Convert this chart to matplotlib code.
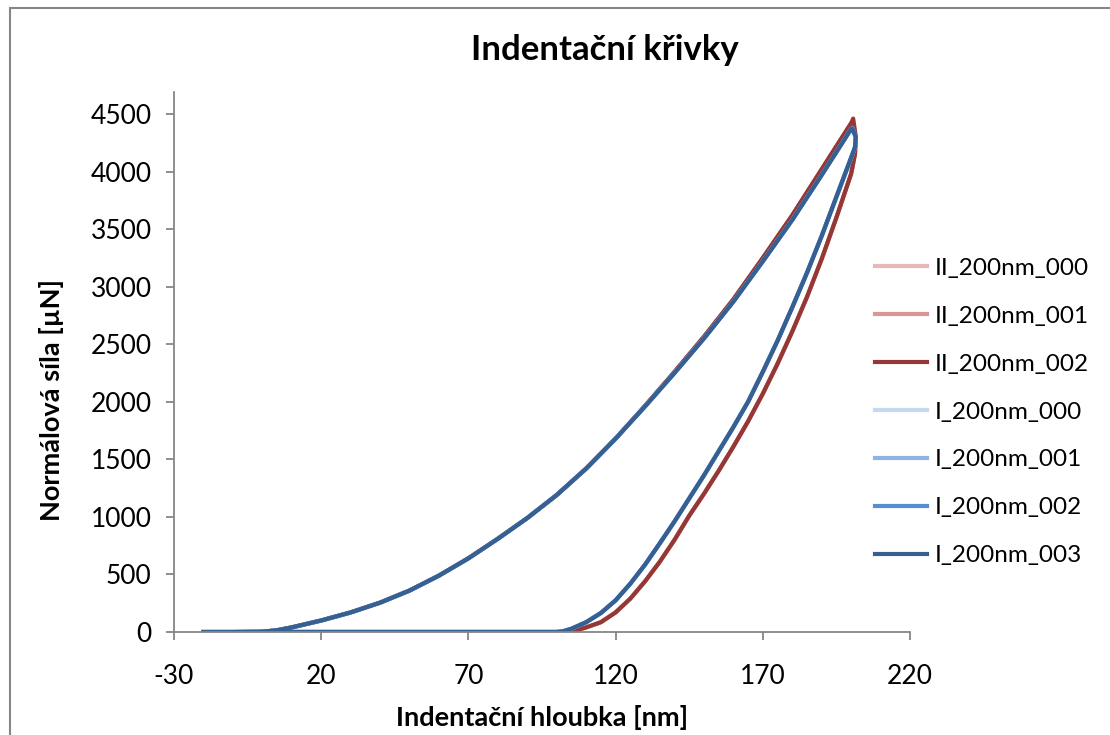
import matplotlib
matplotlib.use("Agg")
import matplotlib.pyplot as plt
from matplotlib.patches import Rectangle

plt.rcParams["font.family"] = ["Lato", "DejaVu Sans"]
plt.rcParams["axes.unicode_minus"] = False

# loading branch, shared depth grid [nm]
load_depth = [-20, -10, 0, 5, 10, 20, 30, 40, 50, 60, 70, 80, 90, 100,
              110, 120, 130, 140, 150, 160, 170, 180, 190, 200]
load_force_I = [0, 0, 2, 15, 40, 100, 170, 255, 360, 490, 640, 810, 990, 1190,
                1420, 1680, 1960, 2250, 2550, 2870, 3220, 3580, 3970, 4370]
load_force_II = [0, 0, 2, 15, 40, 100, 170, 255, 360, 490, 640, 810, 990, 1190,
                 1420, 1680, 1965, 2260, 2565, 2890, 3250, 3620, 4020, 4420]

# unloading branch, shared depth grid [nm]
unload_depth = [201.6, 201.3, 200, 195, 190, 185, 180, 175, 170, 165, 160, 155,
                150, 145, 140, 135, 130, 125, 120, 115, 110, 105, 102, 100, 50, 0]
unload_force_I = [4300, 4210, 4120, 3780, 3440, 3120, 2820, 2530, 2260, 2000,
                  1780, 1570, 1360, 1160, 960, 770, 585, 420, 275, 165, 85, 28,
                  5, 0, 0, 0]
unload_force_II = [4300, 4150, 3980, 3600, 3240, 2910, 2610, 2330, 2070, 1830,
                   1610, 1400, 1200, 1010, 800, 610, 440, 290, 170, 85, 40, 3,
                   0, 0, 0, 0]

# peak (max depth, max force) of each test
series = ["II_200nm_000", "II_200nm_001", "II_200nm_002",
          "I_200nm_000", "I_200nm_001", "I_200nm_002", "I_200nm_003"]
peak_depth = [200.6, 200.6, 200.7, 200.4, 200.4, 200.5, 200.4]
peak_force = [4410, 4420, 4460, 4360, 4370, 4380, 4370]
colors = ["#E6B9B8", "#DA9694", "#953735",
          "#C6D9F1", "#8DB4E2", "#558ED5", "#376092"]

fig = plt.figure(figsize=(11.10, 7.35), dpi=100)
ax = fig.add_axes([174 / 1110, 1 - 632 / 735, 736 / 1110, 540 / 735])

for i, name in enumerate(series):
    if name.startswith("II"):
        lf, uf = load_force_II, unload_force_II
    else:
        lf, uf = load_force_I, unload_force_I
    x = load_depth + [peak_depth[i]] + unload_depth
    y = lf + [peak_force[i]] + uf
    ax.plot(x, y, color=colors[i], lw=3.0, label=name, solid_joinstyle="round")

ax.set_xlim(-30, 220)
ax.set_ylim(0, 4691)
ax.set_xticks(range(-30, 221, 50))
ax.set_yticks(range(0, 4501, 500))

for side in ("top", "right"):
    ax.spines[side].set_visible(False)
for side in ("left", "bottom"):
    ax.spines[side].set_color("#868686")
    ax.spines[side].set_linewidth(1.3)
ax.tick_params(axis="both", direction="out", length=6, width=1.3,
               color="#868686", labelsize=19, labelcolor="black")
ax.tick_params(axis="x", pad=17)
ax.tick_params(axis="y", pad=10)

ax.set_xlabel("Indentační hloubka [nm]", fontsize=19.5, fontweight="bold")
ax.set_ylabel("Normálová síla [µN]", fontsize=19.5, fontweight="bold")
ax.xaxis.set_label_coords(0.5, (632 - 717) / 540)
ax.yaxis.set_label_coords((52 - 174) / 736, (632 - 400) / 540)
ax.xaxis.label.set_va("center")
ax.yaxis.label.set_va("center")
fig.text(605 / 1110, 1 - 50 / 735, "Indentační křivky", fontsize=25,
         fontweight="bold", ha="center", va="center")

fig.legend(loc="upper left", bbox_to_anchor=(853 / 1110, 1 - 236 / 735),
           frameon=False, fontsize=17.5, handlelength=2.14, handletextpad=0.33,
           labelspacing=1.105)

# outer chart frame
fig.patches.append(Rectangle((10 / 1110, -0.1), 1.2, 1.1 - 8 / 735,
                             transform=fig.transFigure, fill=False,
                             edgecolor="#868686", lw=1.5))

fig.savefig("out.png", dpi=100)
